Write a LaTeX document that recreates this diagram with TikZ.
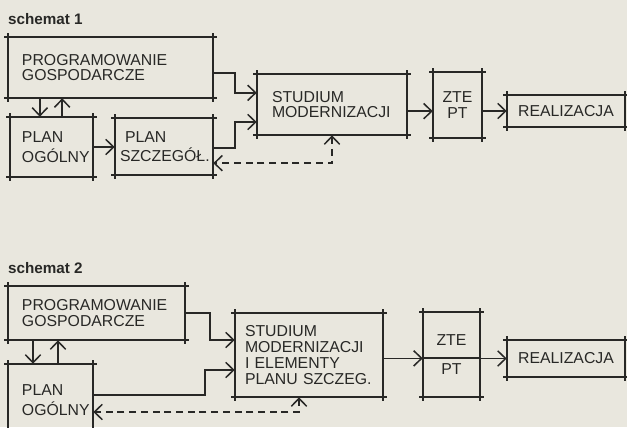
\documentclass[tikz,border=0pt]{standalone}
\usepackage{fontspec}
\setmainfont{Liberation Sans}
\usetikzlibrary{arrows.meta,calc}

\definecolor{papier}{RGB}{233,231,222}
\definecolor{tusz}{RGB}{40,40,38}

\begin{document}
\begin{tikzpicture}[
        x=0.03cm, y=-0.03cm,
        every node/.style={font=\fontsize{13.5}{13.5}\selectfont, text=tusz},
        blok/.style={draw=none, align=left, inner ysep=0pt},
        srodek/.style={draw=none, align=center, inner sep=0pt},
        bok/.style={draw=tusz, line width=1.3pt, shorten <=-0.1cm, shorten >=-0.1cm},
        strz/.style={draw=tusz, line width=1.3pt, -{Straight Barb[length=0.24cm,width=0.46cm]}},
        powrot/.style={draw=tusz, line width=1.3pt, dashed, dash pattern=on 6pt off 4pt,
            {Straight Barb[length=0.24cm,width=0.46cm]}-{Straight Barb[length=0.24cm,width=0.46cm]}},
        tytul/.style={font=\fontsize{13}{13}\selectfont\bfseries, anchor=west, inner sep=0pt}
        ]
        \clip (0,0) rectangle (627,427);
        \fill[papier] (0,0) rectangle (627,427);

        % schemat 1
        \node[tytul] (tyt1) at (8,19) {schemat 1};
        \node[blok, minimum width=6.15cm, minimum height=1.83cm, inner xsep=0.42cm, text width=5.31cm]
            (prog1) at (110.5,67.5) {PROGRAMOWANIE\\GOSPODARCZE};
        \node[blok, minimum width=2.49cm, minimum height=1.80cm, inner xsep=0.36cm, text width=1.77cm]
            (og1) at (51.5,147) {PLAN\\[3pt]OGÓLNY};
        \node[blok, minimum width=2.94cm, minimum height=1.71cm, inner xsep=0.15cm, text width=2.64cm]
            (sz1) at (164,146.5) {\hspace{0.15cm}PLAN\\[3pt]SZCZEGÓŁ.};
        \node[blok, minimum width=4.50cm, minimum height=1.83cm, inner xsep=0.45cm, text width=3.60cm]
            (st1) at (332,104.5) {STUDIUM\\MODERNIZACJI};
        \node[srodek, minimum width=1.47cm, minimum height=1.98cm]
            (zte1) at (457.5,105) {ZTE\\PT};
        \node[srodek, minimum width=3.54cm, minimum height=0.96cm]
            (real1) at (566,111) {REALIZACJA};

        % schemat 2
        \node[tytul] (tyt2) at (8,268) {schemat 2};
        \node[blok, minimum width=5.31cm, minimum height=1.62cm, inner xsep=0.42cm, text width=4.47cm]
            (prog2) at (96.5,313) {PROGRAMOWANIE\\GOSPODARCZE};
        \node[blok, minimum width=2.55cm, minimum height=2.16cm, inner xsep=0.42cm, text width=1.71cm]
            (og2) at (50.5,400) {PLAN\\[3pt]OGÓLNY};
        \node[blok, minimum width=4.44cm, minimum height=2.52cm, inner xsep=0.30cm, text width=3.84cm]
            (st2) at (309,355) {STUDIUM\\MODERNIZACJI\\I ELEMENTY\\PLANU SZCZEG.};
        \node[srodek, minimum width=1.71cm, minimum height=2.55cm]
            (zte2) at (451.5,354.5) {ZTE\\[12pt]PT};
        \node[srodek, minimum width=3.54cm, minimum height=1.11cm]
            (real2) at (566,358.5) {REALIZACJA};

        % ramki z wystajacymi koncami
        \foreach \b in {prog1,og1,sz1,st1,zte1,real1,prog2,og2,st2,zte2,real2}{
            \draw[bok] (\b.north west) -- (\b.north east);
            \draw[bok] (\b.south west) -- (\b.south east);
            \draw[bok] (\b.north west) -- (\b.south west);
            \draw[bok] (\b.north east) -- (\b.south east);
        }
        \draw[bok, shorten <=0pt, shorten >=0pt] ([yshift=-0.1cm]zte2.west) -- ([yshift=-0.1cm]zte2.east);

        % polaczenia schemat 1
        \draw[strz] ([yshift=-0.165cm]prog1.east) -- ++(22,0) |- ([yshift=0.35cm]st1.west);
        \draw[strz] ([yshift=-0.05cm]sz1.east) -- ++(22,0) |- ([yshift=-0.525cm]st1.west);
        \draw[powrot] (st1.south) |- ([yshift=-0.5cm]sz1.east);
        \draw[strz] ([xshift=-0.35cm]og1.north |- prog1.south) -- ([xshift=-0.35cm]og1.north);
        \draw[strz] ([xshift=0.32cm]og1.north) -- ([xshift=0.32cm]og1.north |- prog1.south);
        \draw[strz] (og1.east) -- (sz1.west |- og1.east);
        \draw[strz] ([yshift=-0.2cm]st1.east) -- ([yshift=-0.2cm]st1.east -| zte1.west);
        \draw[strz] (zte1.east |- real1.west) -- (real1.west);

        % polaczenia schemat 2
        \draw[strz] (prog2.east) -- ++(25,0) |- ([yshift=0.45cm]st2.west);
        \draw[strz] ([yshift=0.15cm]og2.east) -- ++(112,0) |- ([yshift=-0.45cm]st2.west);
        \draw[powrot] ([xshift=-0.3cm]st2.south) |- ([yshift=-0.36cm]og2.east);
        \draw[strz] ([xshift=-0.525cm]og2.north |- prog2.south) -- ([xshift=-0.525cm]og2.north);
        \draw[strz] ([xshift=0.225cm]og2.north) -- ([xshift=0.225cm]og2.north |- prog2.south);
        \draw[strz] ([yshift=-0.1cm]st2.east) -- ([yshift=-0.1cm]st2.east -| zte2.west);
        \draw[strz] (zte2.east |- real2.west) -- (real2.west);
    \end{tikzpicture}
\end{document}
